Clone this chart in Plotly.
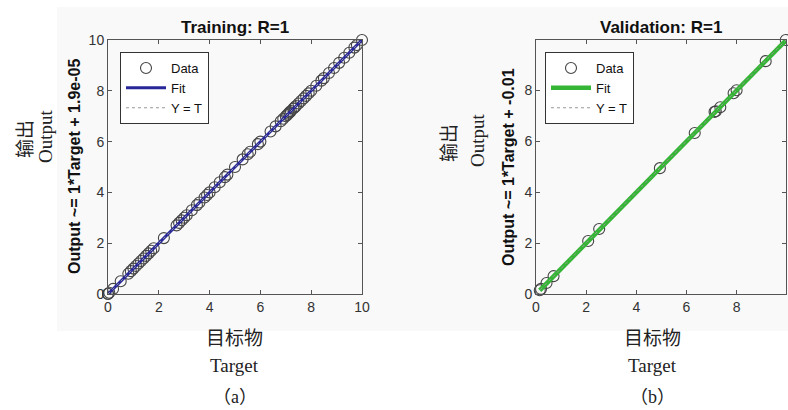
import plotly.graph_objects as go

# ---- data ----
train_target = [0, 0, 0.05, 0.2, 0.5, 0.8, 0.9, 1.0, 1.1, 1.2, 1.3, 1.4, 1.5, 1.6, 1.7, 1.8,
                2.2, 2.7, 2.8, 2.9, 3.0, 3.1, 3.3, 3.5, 3.6, 3.8, 3.9, 4.0, 4.2, 4.4, 4.6,
                4.7, 5.0, 5.3, 5.5, 5.6, 5.9, 6.0, 6.4, 6.6, 6.8, 6.9, 7.0, 7.05, 7.1,
                7.15, 7.2, 7.3, 7.35, 7.4, 7.5, 7.6, 7.7, 7.8, 7.9, 8.0, 8.2, 8.4, 8.5,
                8.7, 8.9, 9.1, 9.3, 9.5, 9.7, 9.8, 10.0]
train_output = [0, 0.01, 0.05, 0.2, 0.5, 0.8, 0.9, 1.0, 1.1, 1.2, 1.3, 1.4, 1.5, 1.6, 1.7, 1.8,
                2.2, 2.7, 2.8, 2.9, 3.0, 3.1, 3.3, 3.5, 3.6, 3.8, 3.9, 4.0, 4.2, 4.4, 4.6,
                4.7, 5.0, 5.3, 5.5, 5.6, 5.9, 6.0, 6.4, 6.6, 6.8, 6.9, 7.0, 7.05, 7.1,
                7.15, 7.2, 7.3, 7.35, 7.4, 7.5, 7.6, 7.7, 7.8, 7.9, 8.0, 8.2, 8.4, 8.5,
                8.7, 8.9, 9.1, 9.3, 9.5, 9.7, 9.8, 10.0]
train_fit = (1.0, 1.9e-05)   # slope, intercept

val_target = [0.15, 0.2, 0.42, 0.7, 2.08, 2.52, 4.94, 6.33, 7.12, 7.17, 7.35, 7.88, 8.0, 9.16, 9.96]
val_output = [0.15, 0.2, 0.43, 0.7, 2.08, 2.55, 4.94, 6.32, 7.15, 7.17, 7.33, 7.88, 8.0, 9.14, 9.97]
val_fit = (1.0, -0.01)

titles = ["Training: R=1", "Validation: R=1"]
ylabels = ["Output ~= 1*Target + 1.9e-05", "Output ~= 1*Target + -0.01"]
x_ticks_a = [0, 2, 4, 6, 8, 10]
x_ticks_b = [0, 2, 4, 6, 8]

W, H = 788, 410
def px(x): return x / W
def py(y): return 1 - y / H

fig = go.Figure()

panels = [
    dict(t=train_target, o=train_output, fit=train_fit, col="#27279a", lw=3, xa="x", ya="y",
         leg="legend", xr=[0, 10], yr=[0, 10], ticks=x_ticks_a),
    dict(t=val_target, o=val_output, fit=val_fit, col="#35b535", lw=4.5, xa="x2", ya="y2",
         leg="legend2", xr=[0, 9.97], yr=[0, 9.97], ticks=x_ticks_b),
]

for p in panels:
    lo, hi = min(p["t"]), max(p["t"])
    m, b = p["fit"]
    fig.add_trace(go.Scatter(x=p["t"], y=p["o"], mode="markers", name="Data",
                             marker=dict(symbol="circle-open", size=11, color="#444",
                                         line=dict(width=1.1, color="#444")),
                             xaxis=p["xa"], yaxis=p["ya"], legend=p["leg"], cliponaxis=False))
    fig.add_trace(go.Scatter(x=[lo, hi], y=[m * lo + b, m * hi + b], mode="lines", name="Fit",
                             line=dict(color=p["col"], width=p["lw"]),
                             xaxis=p["xa"], yaxis=p["ya"], legend=p["leg"]))
    fig.add_trace(go.Scatter(x=[p["xr"][0], p["xr"][1]], y=[p["xr"][0], p["xr"][1]],
                             mode="lines", name="Y = T",
                             line=dict(color="#999", width=1, dash="dot"),
                             xaxis=p["xa"], yaxis=p["ya"], legend=p["leg"]))

axis_common = dict(showgrid=False, zeroline=False, showline=True, linecolor="#555",
                   linewidth=1, mirror="ticks", ticks="inside", ticklen=4, tickcolor="#555",
                   automargin=False,
                   tickfont=dict(family="Liberation Sans, Arial", size=14, color="#333"))

yd = [py(294), py(40)]
legfont = dict(family="Liberation Sans, Arial", size=13, color="#111")
fig.update_layout(
    template="none",
    width=W, height=H, margin=dict(l=0, r=0, t=0, b=0, pad=0, autoexpand=False),
    paper_bgcolor="white", plot_bgcolor="white", showlegend=True,
    xaxis=dict(domain=[px(108), px(362)], range=[0, 10], tickvals=x_ticks_a, anchor="y", **axis_common),
    yaxis=dict(domain=yd, range=[0, 10], tickvals=[0, 2, 4, 6, 8, 10], anchor="x", **axis_common),
    xaxis2=dict(domain=[px(536), px(786)], range=[0, 9.97], tickvals=x_ticks_b, anchor="y2", **axis_common),
    yaxis2=dict(domain=yd, range=[0, 9.97], tickvals=[0, 2, 4, 6, 8], anchor="x2", **axis_common),
    legend=dict(x=px(120), y=py(52), xanchor="left", yanchor="top", bgcolor="white",
                bordercolor="#333", borderwidth=1, tracegroupgap=0, font=legfont,
                itemwidth=40, traceorder="normal"),
    legend2=dict(x=px(545), y=py(52), xanchor="left", yanchor="top", bgcolor="white",
                 bordercolor="#333", borderwidth=1, tracegroupgap=0, font=legfont,
                 itemwidth=40, traceorder="normal"),
)

# light gray figure background
fig.add_shape(type="rect", xref="paper", yref="paper", x0=px(57), x1=1, y0=py(331), y1=py(7),
              fillcolor="#f9f9f9", line_width=0, layer="below")

serif = "Liberation Serif, Noto Sans CJK SC"
ann = []
for cx, title in zip([235, 661], titles):
    ann.append(dict(x=px(cx), y=py(27), text="<b>%s</b>" % title, showarrow=False,
                    font=dict(family="Liberation Sans, Arial", size=17, color="#111")))
for cx, lab in zip([75, 509], ylabels):
    ann.append(dict(x=px(cx), y=py(167), text="<b>%s</b>" % lab, showarrow=False, textangle=-90,
                    font=dict(family="Liberation Sans, Arial", size=16, color="#111")))
for cx1, cx2, cy in [(25, 45, 136), (449, 477, 140)]:
    ann.append(dict(x=px(cx1), y=py(cy + 3), text="输出", showarrow=False, textangle=-90,
                    font=dict(family=serif, size=19, color="#222")))
    ann.append(dict(x=px(cx2), y=py(cy), text="Output", showarrow=False, textangle=-90,
                    font=dict(family=serif, size=19, color="#222")))
for cx, sub in [(235, "a"), (652, "b")]:
    ann.append(dict(x=px(cx), y=py(338), text="目标物", showarrow=False,
                    font=dict(family=serif, size=19, color="#222")))
    ann.append(dict(x=px(cx), y=py(365), text="Target", showarrow=False,
                    font=dict(family=serif, size=19, color="#222")))
    ann.append(dict(x=px(cx), y=py(397), text="（%s）" % sub,
                    showarrow=False, font=dict(family=serif, size=18, color="#222")))
for a in ann:
    a.update(xref="paper", yref="paper", xanchor="center", yanchor="middle")
fig.update_layout(annotations=ann)

fig.write_html("out.html", config={"displayModeBar": False},
               post_script="document.body.style.margin='0';document.body.style.overflow='hidden';")
